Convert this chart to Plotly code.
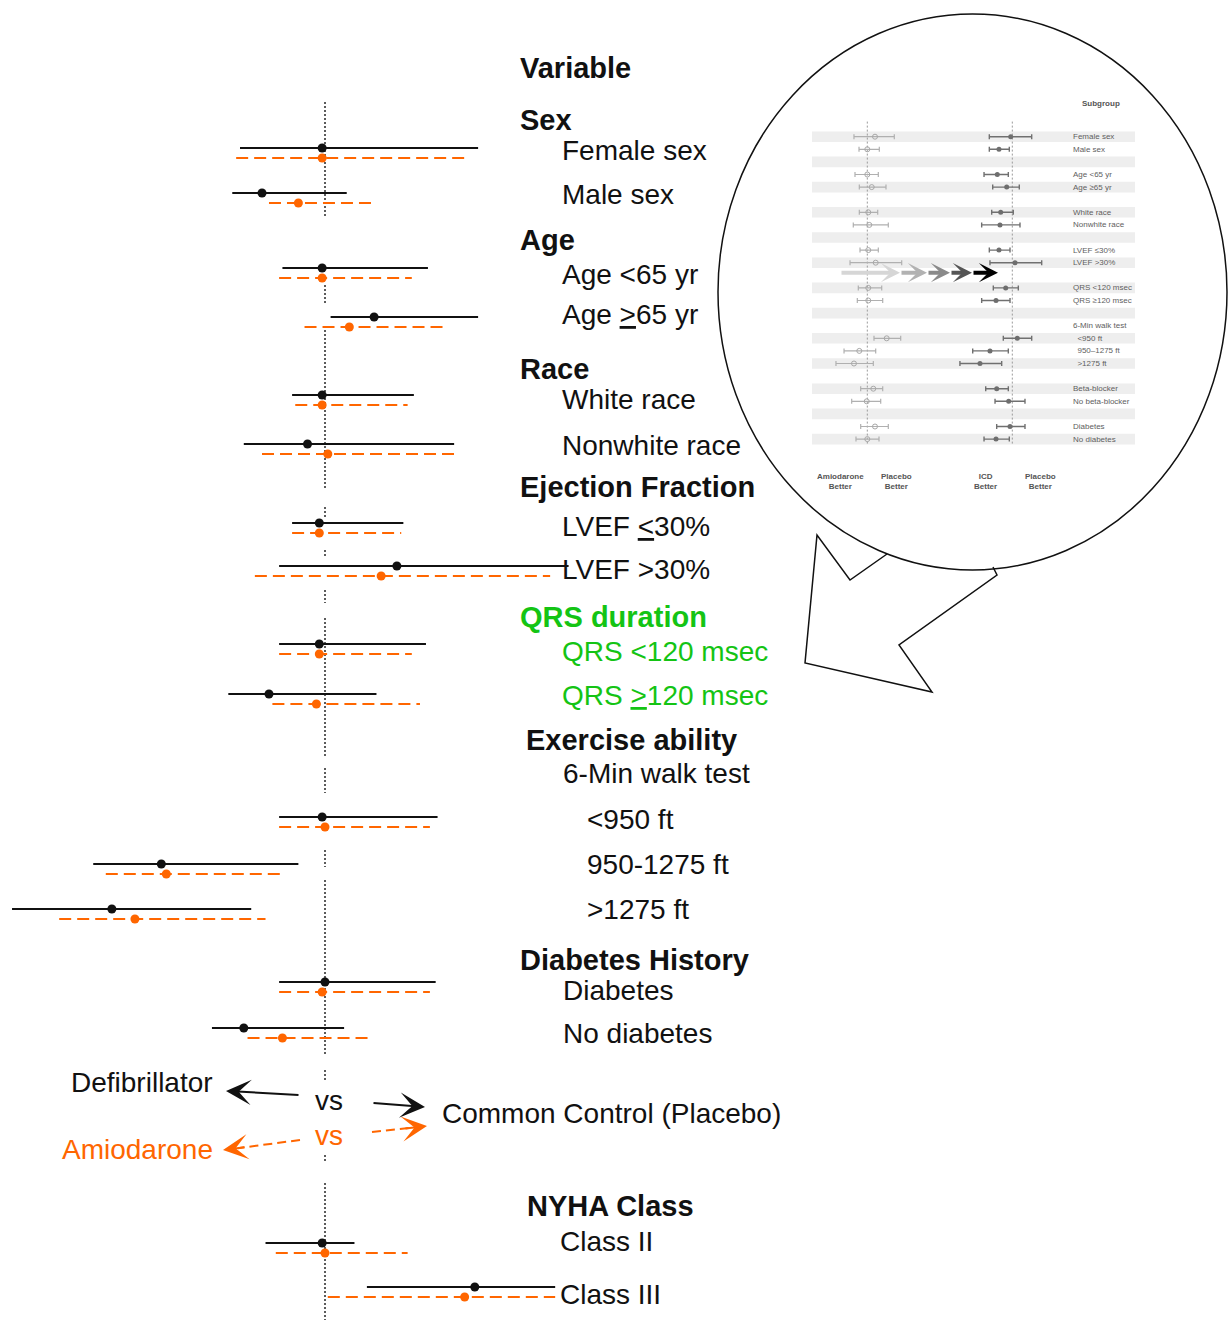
import plotly.graph_objects as go

W, H = 1230, 1331
BLACK = "#111111"
ORANGE = "#ff6600"
GREEN = "#14c414"
FONT = "Liberation Sans, Arial, sans-serif"

# ---------------- main forest plot: hazard ratios vs common placebo control ----------------
subgroups = ["Female sex", "Male sex", "Age <65 yr", "Age >=65 yr", "White race", "Nonwhite race",
             "LVEF <=30%", "LVEF >30%", "QRS <120 msec", "QRS >=120 msec", "<950 ft",
             "950-1275 ft", ">1275 ft", "Diabetes", "No diabetes", "Class II", "Class III"]

# Defibrillator (ICD) vs placebo
icd_hr = [0.99, 0.80, 0.99, 1.19, 0.99, 0.94, 0.98, 1.29, 0.98, 0.82, 0.99, 0.56, 0.47, 1.00, 0.75, 0.99, 1.70]
icd_lo = [0.74, 0.72, 0.86, 1.02, 0.89, 0.75, 0.89, 0.85, 0.85, 0.71, 0.85, 0.44, 0.33, 0.85, 0.67, 0.81, 1.16]
icd_hi = [1.72, 1.08, 1.44, 1.72, 1.37, 1.58, 1.32, 2.37, 1.43, 1.20, 1.49, 0.91, 0.77, 1.48, 1.07, 1.11, 2.26]

# Amiodarone vs placebo
amio_hr = [0.99, 0.91, 0.99, 1.09, 0.99, 1.01, 0.98, 1.22, 0.98, 0.97, 1.00, 0.57, 0.51, 0.99, 0.86, 1.00, 1.64]
amio_lo = [0.73, 0.82, 0.85, 0.93, 0.90, 0.80, 0.89, 0.78, 0.85, 0.83, 0.85, 0.46, 0.39, 0.85, 0.76, 0.84, 1.01]
amio_hi = [1.64, 1.19, 1.36, 1.54, 1.34, 1.58, 1.31, 2.22, 1.36, 1.40, 1.45, 0.87, 0.81, 1.45, 1.18, 1.34, 2.26]

# vertical layout of the rows (page rows, top to bottom)
ROW_Y = [148, 193, 268, 317, 395, 444, 523, 566, 644, 694, 817, 864, 909, 982, 1028, 1243, 1287]
AMIO_SHIFT = 10
REF_SEGMENTS = [(102, 218), (285, 303), (330, 490), (507, 517), (550, 558), (590, 603), (618, 758),
                (768, 793), (850, 867), (880, 1055), (1070, 1080), (1155, 1163), (1183, 1320)]

# row captions: text, left x, centre y, style
LABELS = [
    ("Variable", 521, 67.5, "head"),
    ("Sex", 521, 119.5, "head"),
    ("Female sex", 563, 150.3, "item"),
    ("Male sex", 563, 194.5, "item"),
    ("Age", 521, 240, "head"),
    ("Age &lt;65 yr", 563, 274.7, "item"),
    ("Age <u>&gt;</u>65 yr", 563, 314.7, "item"),
    ("Race", 521, 369, "head"),
    ("White race", 563, 399, "item"),
    ("Nonwhite race", 563, 445, "item"),
    ("Ejection Fraction", 521, 487, "head"),
    ("LVEF <u>&lt;</u>30%", 563, 526.5, "item"),
    ("LVEF &gt;30%", 563, 569, "item"),
    ("QRS duration", 521, 616.7, "ghead"),
    ("QRS &lt;120 msec", 563, 651.7, "gitem"),
    ("QRS <u>&gt;</u>120 msec", 563, 695, "gitem"),
    ("Exercise ability", 527, 740, "head"),
    ("6-Min walk test", 564, 773, "item"),
    ("&lt;950 ft", 588, 819, "item"),
    ("950-1275 ft", 588, 864, "item"),
    ("&gt;1275 ft", 588, 909, "item"),
    ("Diabetes History", 521, 960, "head"),
    ("Diabetes", 564, 990, "item"),
    ("No diabetes", 564, 1033, "item"),
    ("Common Control (Placebo)", 443, 1113, "item"),
    ("NYHA Class", 528, 1206, "head"),
    ("Class II", 561, 1241, "item"),
    ("Class III", 561, 1294, "item"),
]

# ---------------- inset: original published subgroup panel ----------------
inset_rows = [0, 1, 3, 4, 6, 7, 9, 10, 12, 13, 16, 17, 18, 20, 21, 23, 24]
inset_amio_hr = [1.205, 1.0, 1.0, 1.113, 1.024, 1.05, 1.024, 1.226, 1.024, 1.024, 1.60, 0.824, 0.724, 1.157, 0.986, 1.205, 1.0]
inset_amio_lo = [0.724, 0.818, 0.742, 0.824, 0.824, 0.712, 0.838, 0.658, 0.804, 0.785, 1.176, 0.569, 0.468, 0.852, 0.685, 0.852, 0.760]
inset_amio_hi = [1.924, 1.338, 1.306, 1.573, 1.287, 1.664, 1.306, 2.302, 1.418, 1.453, 2.247, 1.226, 1.157, 1.453, 1.384, 1.664, 1.328]
inset_icd_hr = [0.962, 0.724, 0.695, 0.873, 0.755, 0.742, 0.724, 1.068, 0.852, 0.674, 1.129, 0.582, 0.457, 0.685, 0.916, 0.946, 0.674]
inset_icd_lo = [0.573, 0.573, 0.504, 0.622, 0.607, 0.476, 0.573, 0.582, 0.631, 0.476, 0.804, 0.383, 0.281, 0.525, 0.658, 0.685, 0.504]
inset_icd_hi = [1.600, 0.930, 0.908, 1.185, 1.024, 1.205, 0.946, 2.039, 1.157, 0.946, 1.600, 0.908, 0.773, 0.908, 1.360, 1.360, 0.930]
inset_label_rows = [0, 1, 3, 4, 6, 7, 9, 10, 12, 13, 15, 16, 17, 18, 20, 21, 23, 24]
inset_labels = ["Female sex", "Male sex", "Age <65 yr", "Age ≥65 yr", "White race", "Nonwhite race",
                "LVEF ≤30%", "LVEF >30%", "QRS <120 msec", "QRS ≥120 msec", "6-Min walk test",
                "  <950 ft", "  950–1275 ft", "  >1275 ft", "Beta-blocker", "No beta-blocker",
                "Diabetes", "No diabetes"]

fig = go.Figure()

# reference line at HR = 1
ref_x, ref_y = [], []
for a, b in REF_SEGMENTS:
    ref_x += [1, 1, None]
    ref_y += [a, b, None]
fig.add_trace(go.Scatter(x=ref_x, y=ref_y, mode="lines",
                         line=dict(color="#333333", width=1.6, dash="2px,2px"), hoverinfo="skip"))

# confidence intervals
bx, by, ox, oy = [], [], [], []
for i, yy in enumerate(ROW_Y):
    bx += [icd_lo[i], icd_hi[i], None]
    by += [yy, yy, None]
    ox += [amio_lo[i], amio_hi[i], None]
    oy += [yy + AMIO_SHIFT, yy + AMIO_SHIFT, None]
fig.add_trace(go.Scatter(x=bx, y=by, mode="lines", line=dict(color=BLACK, width=2), hoverinfo="skip"))
fig.add_trace(go.Scatter(x=ox, y=oy, mode="lines", line=dict(color=ORANGE, width=2, dash="12px,6px"),
                         hoverinfo="skip"))
fig.add_trace(go.Scatter(x=icd_hr, y=ROW_Y, mode="markers", text=subgroups,
                         marker=dict(color=BLACK, size=9)))
fig.add_trace(go.Scatter(x=amio_hr, y=[v + AMIO_SHIFT for v in ROW_Y], mode="markers", text=subgroups,
                         marker=dict(color=ORANGE, size=9)))

# direction legend shafts (dashed orange)
fig.add_trace(go.Scatter(x=[300, 238], y=[1140, 1148.2], xaxis="x2", yaxis="y", mode="lines",
                         line=dict(color=ORANGE, width=2, dash="9px,5px"), hoverinfo="skip"))
fig.add_trace(go.Scatter(x=[372, 412], y=[1132, 1127.7], xaxis="x2", yaxis="y", mode="lines",
                         line=dict(color=ORANGE, width=2, dash="9px,5px"), hoverinfo="skip"))

# inset reference lines
for ax in ("x3", "x4"):
    fig.add_trace(go.Scatter(x=[1, 1], y=[-1.2, 24.4], xaxis=ax, yaxis="y3", mode="lines",
                             line=dict(color="#9a9a9a", width=1, dash="2px,2px"), hoverinfo="skip"))

# inset estimates with capped whiskers
fig.add_trace(go.Scatter(
    x=inset_amio_hr, y=inset_rows, xaxis="x3", yaxis="y3", mode="markers",
    marker=dict(symbol="circle-open", size=5, color="#a8a8a8", line=dict(width=1)),
    error_x=dict(type="data", symmetric=False,
                 array=[h - p for h, p in zip(inset_amio_hi, inset_amio_hr)],
                 arrayminus=[p - l for p, l in zip(inset_amio_hr, inset_amio_lo)],
                 color="#b0b0b0", thickness=1.2, width=2.5)))
fig.add_trace(go.Scatter(
    x=inset_icd_hr, y=inset_rows, xaxis="x4", yaxis="y3", mode="markers",
    marker=dict(symbol="circle", size=5, color="#6e6e6e"),
    error_x=dict(type="data", symmetric=False,
                 array=[h - p for h, p in zip(inset_icd_hi, inset_icd_hr)],
                 arrayminus=[p - l for p, l in zip(inset_icd_hr, inset_icd_lo)],
                 color="#707070", thickness=1.4, width=2.5)))

shapes = []
# inset banding
for r in range(0, 25, 2):
    shapes.append(dict(type="rect", xref="x2", yref="y3", x0=812, x1=1135, y0=r - 0.42, y1=r + 0.42,
                       fillcolor="#eeeeee", line=dict(width=0), layer="below"))
# magnifier circle and its pointer
shapes.append(dict(type="circle", xref="x2", yref="y", x0=718, x1=1227, y0=14, y1=570,
                   line=dict(color="#111111", width=1.5)))
shapes.append(dict(type="path", xref="x2", yref="y",
                   path="M 887,554 L 850,580 L 817,535 L 805,663 L 932,692 L 899,645 L 997,575 L 993,567",
                   line=dict(color="#111111", width=1.5)))

annotations = []
styles = {
    "head": dict(size=29, color=BLACK, bold=True),
    "item": dict(size=28, color=BLACK, bold=False),
    "ghead": dict(size=29, color=GREEN, bold=True),
    "gitem": dict(size=28, color=GREEN, bold=False),
}
PAD = 3  # annotation box padding offset
for text, x, y, st in LABELS:
    s = styles[st]
    annotations.append(dict(text=f"<b>{text}</b>" if s["bold"] else text, x=x - PAD, y=y, xref="x2", yref="y",
                            xanchor="left", yanchor="middle", showarrow=False,
                            font=dict(family=FONT, size=s["size"], color=s["color"])))

annotations += [
    dict(text="Defibrillator", x=212 + PAD, y=1082.5, xref="x2", yref="y", xanchor="right", yanchor="middle",
         showarrow=False, font=dict(family=FONT, size=28, color=BLACK)),
    dict(text="Amiodarone", x=212 + PAD, y=1149, xref="x2", yref="y", xanchor="right", yanchor="middle",
         showarrow=False, font=dict(family=FONT, size=28, color=ORANGE)),
    dict(text="vs", x=329, y=1100.5, xref="x2", yref="y", xanchor="center", yanchor="middle",
         showarrow=False, font=dict(family=FONT, size=28, color=BLACK)),
    dict(text="vs", x=329, y=1135.5, xref="x2", yref="y", xanchor="center", yanchor="middle",
         showarrow=False, font=dict(family=FONT, size=28, color=ORANGE)),
]

# direction arrows (barbed heads)
def arrow(x, y, ax, ay, color, width=2.0, size=2.1, head=3):
    return dict(text="", x=x, y=y, ax=ax, ay=ay, xref="x2", yref="y", axref="x2", ayref="y",
                showarrow=True, arrowhead=head, arrowsize=size, arrowwidth=width, arrowcolor=color)

annotations += [
    arrow(226, 1091, 300, 1095, BLACK),
    arrow(425, 1107, 372, 1103, BLACK),
    arrow(223, 1150, 246, 1147, ORANGE),
    arrow(427, 1126, 404, 1128.7, ORANGE),
]

# shaded chevrons across the inset
chev = [(840, 900, "#d6d6d6"), (900, 927, "#b2b2b2"), (927, 950, "#8a8a8a"), (950, 972, "#555555"),
        (972, 998, "#000000")]
for a, b, c in chev:
    annotations.append(arrow(b, 272.7, a, 272.7, c, width=4, size=0.8, head=3))

# inset text
for r, t in zip(inset_label_rows, inset_labels):
    annotations.append(dict(text=t.replace("<", "&lt;").replace(">", "&gt;"), x=1071, y=r, xref="x2",
                            yref="y3", xanchor="left", yanchor="middle", showarrow=False,
                            font=dict(family=FONT, size=8, color="#5e5e5e")))
annotations.append(dict(text="<b>Subgroup</b>", x=1101, y=103, xref="x2", yref="y", showarrow=False,
                        font=dict(family=FONT, size=8, color="#555555")))
for t, x in [("Amiodarone<br>Better", 840), ("Placebo<br>Better", 896), ("ICD<br>Better", 985),
             ("Placebo<br>Better", 1040)]:
    annotations.append(dict(text=f"<b>{t}</b>", x=x, y=481.5, xref="x2", yref="y", showarrow=False,
                            xanchor="center", yanchor="middle",
                            font=dict(family=FONT, size=8, color="#555555")))

hidden = dict(visible=False, showgrid=False, zeroline=False, fixedrange=True)
fig.update_layout(
    width=W, height=H,
    margin=dict(l=0, r=0, t=0, b=0, pad=0),
    paper_bgcolor="white", plot_bgcolor="rgba(0,0,0,0)",
    showlegend=False, hovermode=False,
    xaxis=dict(type="log", range=[-0.5, 1.3923], domain=[0, 1], **hidden),
    yaxis=dict(range=[H, 0], domain=[0, 1], **hidden),
    xaxis2=dict(range=[0, W], overlaying="x", anchor="y", **hidden),
    xaxis3=dict(type="log", range=[-0.5821, 0.7653], domain=[812 / W, 940 / W], anchor="y3", **hidden),
    xaxis4=dict(type="log", range=[-0.7084, 0.5021], domain=[945 / W, 1060 / W], anchor="y3", **hidden),
    yaxis3=dict(range=[28.833, -2.913], domain=[1 - 500 / H, 1 - 100 / H], anchor="x3", **hidden),
    shapes=shapes,
    annotations=annotations,
)

fig.write_html("out.html", config={"displayModeBar": False})
